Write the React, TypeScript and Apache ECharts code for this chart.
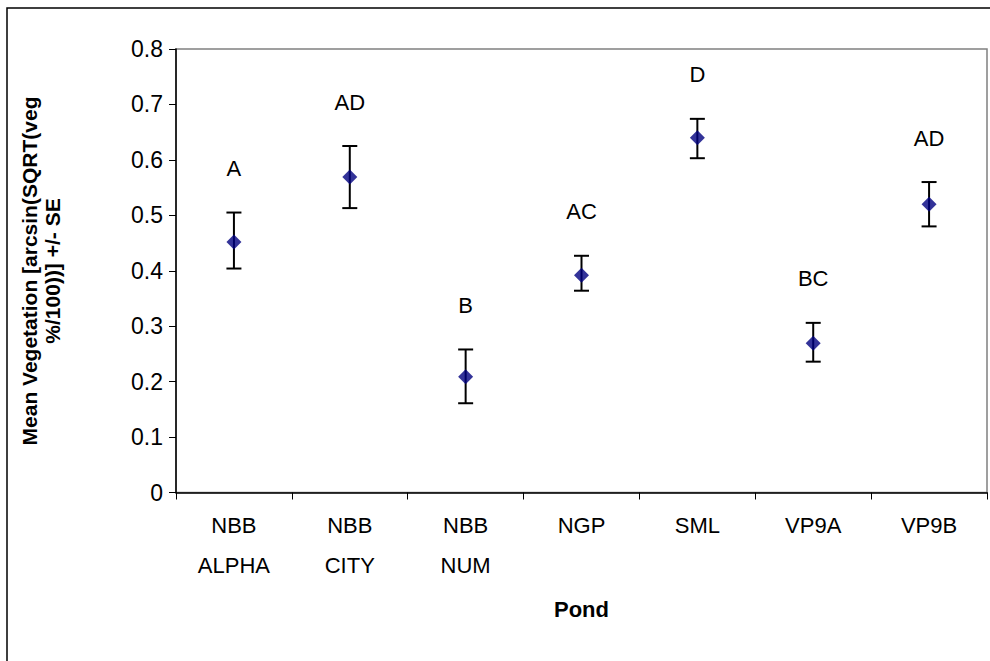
import React, { useEffect, useRef } from "react";
import * as echarts from "echarts";

const categories = ["NBB\nALPHA", "NBB\nCITY", "NBB\nNUM", "NGP", "SML", "VP9A", "VP9B"];
const means = [0.452, 0.569, 0.209, 0.392, 0.64, 0.269, 0.52];
const upperBounds = [0.505, 0.625, 0.258, 0.427, 0.674, 0.306, 0.56];
const lowerBounds = [0.404, 0.513, 0.161, 0.364, 0.603, 0.236, 0.48];
const groupLetters = ["A", "AD", "B", "AC", "D", "BC", "AD"];
const yTicks = [0, 0.1, 0.2, 0.3, 0.4, 0.5, 0.6, 0.7, 0.8];

const FONT = "'Liberation Sans', Arial, sans-serif";

export default function App() {
  const ref = useRef<HTMLDivElement>(null);
  useEffect(() => {
    document.body.style.margin = "0";
    const chart = echarts.init(ref.current!, null, { renderer: "svg" });
    const errData = categories.map((_, i) => [i, lowerBounds[i], upperBounds[i]]);
    const letterData = categories.map((_, i) => [i, upperBounds[i], groupLetters[i]]);
    chart.setOption({
      animation: false,
      backgroundColor: "#ffffff",
      textStyle: { fontFamily: FONT },
      grid: { left: 176, top: 49, right: 3, bottom: 168.5, show: true, borderColor: "#808080", borderWidth: 1.5 },
      graphic: [
        {
          type: "rect",
          shape: { x: 7, y: 8, width: 1200, height: 900 },
          style: { fill: "none", stroke: "#000", lineWidth: 1.5 },
          silent: true,
        },
        {
          type: "text",
          x: 41,
          y: 271,
          rotation: Math.PI / 2,
          style: {
            text: "Mean Vegetation [arcsin(SQRT(veg\n%/100))] +/- SE",
            font: `bold 21px ${FONT}`,
            fill: "#000",
            align: "center",
            verticalAlign: "middle",
            lineHeight: 23,
          },
        },
      ],
      xAxis: {
        type: "category",
        data: categories,
        boundaryGap: true,
        name: "Pond",
        nameLocation: "middle",
        nameGap: 106,
        nameTextStyle: { fontSize: 22, fontWeight: "bold", color: "#000", fontFamily: FONT },
        axisLine: { lineStyle: { color: "#000", width: 1.5 } },
        axisTick: { show: true, alignWithLabel: false, length: 7, lineStyle: { color: "#000", width: 1 } },
        axisLabel: { fontSize: 22, color: "#000", margin: 13, lineHeight: 40, fontFamily: FONT, interval: 0 },
        splitLine: { show: false },
      },
      yAxis: {
        type: "value",
        min: 0,
        max: 0.8,
        interval: 0.1,
        axisLine: { show: true, lineStyle: { color: "#000", width: 1.5 } },
        axisTick: { show: true, length: 7, lineStyle: { color: "#000", width: 1 } },
        axisLabel: {
          fontSize: 23,
          color: "#000",
          margin: 13,
          fontFamily: FONT,
          formatter: (v: number) => (v === 0 ? "0" : yTicks.includes(Math.round(v * 10) / 10) ? v.toFixed(1) : ""),
        },
        splitLine: { show: false },
      },
      series: [
        {
          type: "custom",
          name: "SE",
          data: errData,
          z: 3,
          renderItem: (params: any, api: any) => {
            const x = api.value(0);
            const lo = api.coord([x, api.value(1)]);
            const hi = api.coord([x, api.value(2)]);
            const half = 7.5;
            const style = { stroke: "#000", lineWidth: 2 };
            return {
              type: "group",
              children: [
                { type: "line", shape: { x1: lo[0], y1: lo[1], x2: hi[0], y2: hi[1] }, style },
                { type: "line", shape: { x1: hi[0] - half, y1: hi[1], x2: hi[0] + half, y2: hi[1] }, style },
                { type: "line", shape: { x1: lo[0] - half, y1: lo[1], x2: lo[0] + half, y2: lo[1] }, style },
              ],
            };
          },
        },
        {
          type: "scatter",
          name: "Mean",
          data: means,
          symbol: "diamond",
          symbolSize: [15, 15],
          itemStyle: { color: "#000080" },
          z: 4,
        },
        {
          type: "custom",
          name: "Letters",
          data: letterData,
          z: 5,
          renderItem: (params: any, api: any) => {
            const x = api.value(0);
            const p = api.coord([x, api.value(1)]);
            return {
              type: "text",
              x: p[0],
              y: p[1] - 44,
              style: {
                text: groupLetters[params.dataIndex],
                font: `22px ${FONT}`,
                fill: "#000",
                align: "center",
                verticalAlign: "middle",
              },
            };
          },
        },
      ],
    });
    return () => chart.dispose();
  }, []);
  return <div ref={ref} style={{ width: 990, height: 661 }} />;
}
